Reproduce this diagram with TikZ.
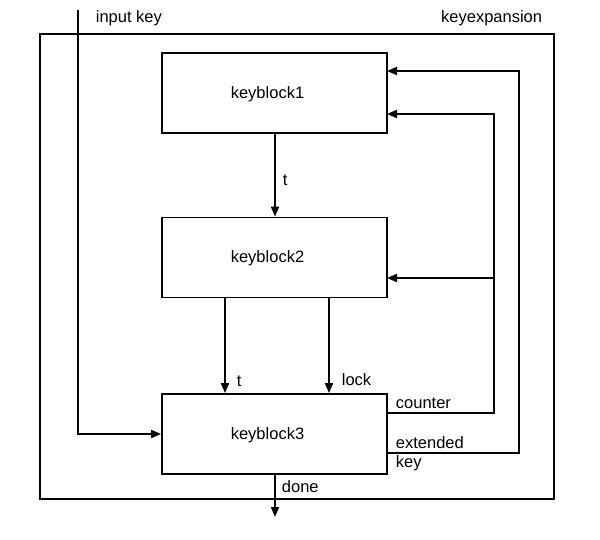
\documentclass[tikz,border=0pt]{standalone}
\usepackage{fontspec}
\setmainfont{Liberation Sans}
\usetikzlibrary{arrows.meta,calc}
\begin{document}
\begin{tikzpicture}[x=1pt,y=-1pt,
  line width=1.8pt,
  font=\fontsize{16.5}{20}\selectfont,
  block/.style={draw,minimum width=225pt,minimum height=80pt,inner sep=0pt},
  blocktext/.style={label={[xshift=-7pt,yshift=-1pt]center:#1}},
  outerbox/.style={draw,minimum width=514pt,minimum height=465pt,inner sep=0pt},
  lbl/.style={inner sep=0pt},
  arr/.style={-{Triangle[length=10pt,width=8pt]}},
  wire/.style={line join=miter}
]
\useasboundingbox (0,0) rectangle (600,540);
\node[outerbox] (outer) at (297,266.5) {};
\node[block,blocktext=keyblock1] (kb1) at (274.5,93) {};
\node[block,blocktext=keyblock2] (kb2) at (274.5,257.5) {};
\node[block,blocktext=keyblock3] (kb3) at (274.5,434) {};

\coordinate (inA) at (78,10);
\coordinate (mX) at (275,0);
\coordinate (doneEnd) at (275,517);
\coordinate (cX) at (494,0);
\coordinate (eX) at (519,0);
\coordinate (kb1in1) at (387,71);
\coordinate (kb1in2) at (387,114);
\coordinate (kb2in) at (387,278);
\coordinate (kb3c) at (387,413);
\coordinate (kb3e) at (387,453);
\coordinate (tA) at (225,297);
\coordinate (lA) at (329,297);

% labels
\node[lbl,anchor=west] (linput) at (95,18) {input key};
\node[lbl,anchor=east] (lkeyexp) at (543,18) {keyexpansion};
\node[lbl,anchor=west] (lt1) at (282,180) {t};
\node[lbl,anchor=west] (lt2) at (236,381) {t};
\node[lbl,anchor=west] (llock) at (341,380) {lock};
\node[lbl,anchor=west] (lcounter) at (395,403) {counter};
\node[lbl,anchor=west] (lext) at (395,443) {extended};
\node[lbl,anchor=west] (lkey) at (395,463) {key};
\node[lbl,anchor=west] (ldone) at (281,487) {done};

% connectors
\draw[arr,wire] (inA) |- (kb3.west);
\draw[arr] (mX |- kb1.south) -- (mX |- kb2.north);
\draw[arr] (tA) -- (tA |- kb3.north);
\draw[arr] (lA) -- (lA |- kb3.north);
\draw[arr] (mX |- kb3.south) -- (doneEnd);
\draw[arr,wire] (kb3c) -| (cX |- kb1in2) -- (kb1in2);
\draw[arr] (cX |- kb2in) -- (kb2in);
\draw[arr,wire] (kb3e) -| (eX |- kb1in1) -- (kb1in1);
\end{tikzpicture}
\end{document}
